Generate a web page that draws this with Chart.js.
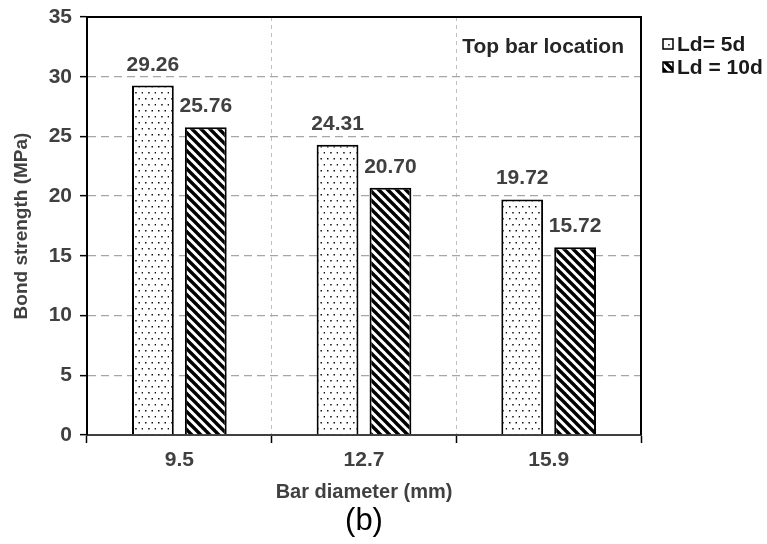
<!DOCTYPE html>
<html lang="en">
<head>
  <meta charset="UTF-8">
  <title>Bond strength - top bar location</title>
  <script src="https://cdn.jsdelivr.net/npm/chart.js"></script>
  <style>
    html, body {
      margin: 0;
      padding: 0;
      background: #fff;
    }
  </style>
</head>
<body>
  <canvas id="barChart" width="767" height="544"></canvas>

  <script>
    // values
    const diameters = ['9.5', '12.7', '15.9'];
    const ld5 = [29.26, 24.31, 19.72];
    const ld10 = [25.76, 20.70, 15.72];
    const seriesNames = ['Ld= 5d', 'Ld = 10d'];
    const yMin = 0;
    const yMax = 35;
    const yStep = 5;

    const FONT = "'Liberation Sans', Arial, sans-serif";
    Chart.defaults.font.family = FONT;

    // dotted fill for Ld = 5d
    function dotPattern() {
      const c = document.createElement('canvas');
      c.width = 13;
      c.height = 12;
      const g = c.getContext('2d');
      g.fillStyle = '#fff';
      g.fillRect(0, 0, 13, 12);
      g.fillStyle = '#111';
      g.fillRect(2, 2, 1.5, 1.5);
      g.fillRect(8.5, 2, 1.5, 1.5);
      g.fillRect(5.2, 8, 1.5, 1.5);
      g.fillRect(11.7, 8, 1.5, 1.5);
      return g.createPattern(c, 'repeat');
    }

    // back-slash hatch for Ld = 10d
    function hatchPattern() {
      const s = 9;
      const c = document.createElement('canvas');
      c.width = s;
      c.height = s;
      const g = c.getContext('2d');
      g.fillStyle = '#fff';
      g.fillRect(0, 0, s, s);
      g.strokeStyle = '#000';
      g.lineWidth = 3.4;
      for (let k = -1; k <= 1; k++) {
        g.beginPath();
        g.moveTo(k * s - 2, -2);
        g.lineTo(k * s + s + 2, s + 2);
        g.stroke();
      }
      return g.createPattern(c, 'repeat');
    }

    const extras = {
      id: 'extras',
      afterDatasetsDraw(chart) {
        const ctx = chart.ctx;
        ctx.save();
        ctx.font = 'bold 21px ' + FONT;
        ctx.fillStyle = '#404040';
        ctx.textAlign = 'center';
        ctx.textBaseline = 'alphabetic';
        chart.data.datasets.forEach((ds, i) => {
          chart.getDatasetMeta(i).data.forEach((bar, j) => {
            ctx.fillText(ds.data[j].toFixed(2), bar.x, bar.y - 15);
          });
        });
        ctx.restore();
      },
      afterDraw(chart) {
        const ctx = chart.ctx;
        const a = chart.chartArea;
        ctx.save();
        // top and right frame
        ctx.strokeStyle = '#000';
        ctx.lineWidth = 2;
        ctx.beginPath();
        ctx.moveTo(a.left, a.top);
        ctx.lineTo(a.right, a.top);
        ctx.lineTo(a.right, a.bottom);
        ctx.stroke();

        // note inside plot
        ctx.font = 'bold 21px ' + FONT;
        ctx.fillStyle = '#262626';
        ctx.textAlign = 'right';
        ctx.textBaseline = 'middle';
        ctx.fillText('Top bar location', a.right - 17, a.top + 30);

        // legend
        ctx.textAlign = 'left';
        chart.data.datasets.forEach((ds, i) => {
          const y = a.top + 27 + i * 23;
          ctx.fillStyle = ds.backgroundColor;
          ctx.fillRect(a.right + 22, y - 5, 10, 10);
          ctx.lineWidth = 1.5;
          ctx.strokeStyle = '#000';
          ctx.strokeRect(a.right + 22, y - 5, 10, 10);
          ctx.fillStyle = '#1a1a1a';
          ctx.fillText(ds.label, a.right + 36, y + 1);
        });

        // panel label
        ctx.font = '31px ' + FONT;
        ctx.fillStyle = '#000';
        ctx.textAlign = 'center';
        ctx.fillText('(b)', (a.left + a.right) / 2, 521);
        ctx.restore();
      }
    };

    const ctx = document.getElementById('barChart').getContext('2d');
    new Chart(ctx, {
      type: 'bar',
      data: {
        labels: diameters,
        datasets: [
          {
            label: seriesNames[0],
            data: ld5,
            backgroundColor: dotPattern(),
            borderColor: '#000',
            borderWidth: 2,
            categoryPercentage: 0.573,
            barPercentage: 0.79
          },
          {
            label: seriesNames[1],
            data: ld10,
            backgroundColor: hatchPattern(),
            borderColor: '#000',
            borderWidth: 2,
            categoryPercentage: 0.573,
            barPercentage: 0.79
          }
        ]
      },
      options: {
        responsive: false,
        animation: false,
        layout: {
          padding: { top: 17, right: 126, left: 0, bottom: 0 }
        },
        plugins: {
          legend: { display: false },
          tooltip: { enabled: false }
        },
        scales: {
          x: {
            grid: {
              offset: true,
              color: '#bfbfbf',
              lineWidth: 1,
              tickColor: '#000',
              tickLength: 8,
              tickWidth: 1.5
            },
            border: { color: '#404040', width: 2, dash: [4, 4] },
            ticks: {
              color: '#404040',
              font: { size: 21, weight: 'bold' },
              padding: 5
            },
            title: {
              display: true,
              text: 'Bar diameter (mm)',
              color: '#404040',
              font: { size: 20, weight: 'bold' },
              padding: { top: 0, bottom: 40 }
            },
            afterFit: s => { s.height = 109; }
          },
          y: {
            min: yMin,
            max: yMax,
            grid: {
              color: '#a6a6a6',
              lineWidth: 1.3,
              tickColor: '#000',
              tickLength: 7,
              tickWidth: 1.5
            },
            border: { color: '#000', width: 2, dash: [8, 5] },
            ticks: {
              stepSize: yStep,
              color: '#404040',
              font: { size: 21, weight: 'bold' },
              padding: 8
            },
            title: {
              display: true,
              text: 'Bond strength (MPa)',
              color: '#404040',
              font: { size: 19, weight: 'bold' },
              padding: { top: 10, bottom: 0 }
            },
            afterFit: s => {
              s.width = 87;
              s.paddingTop = 0;
              s.paddingBottom = 0;
            }
          }
        }
      },
      plugins: [extras]
    });
  </script>
</body>
</html>
